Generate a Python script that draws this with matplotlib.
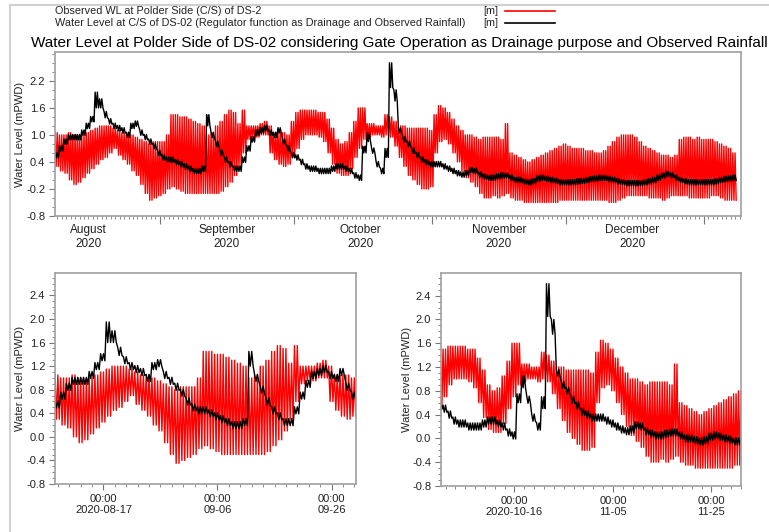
import matplotlib
matplotlib.use('Agg')
import numpy as np
import pandas as pd
import matplotlib.pyplot as plt
import matplotlib.dates as mdates
from matplotlib.ticker import MultipleLocator
from matplotlib.lines import Line2D

plt.rcParams['font.family'] = ['Liberation Sans', 'DejaVu Sans']

# daily high / low envelope, first day = 2020-08-08 12:00
start = pd.Timestamp('2020-08-08 12:00')

# observed WL (red)
red_hi = [
    1.05, 1.0, 1.0, 1.05, 1.0, 1.0, 1.0, 1.05, 1.1, 1.15, 1.2, 1.2, 1.2, 1.15, 1.1, 1.05,  # Aug 8-23
    1.05, 1.0, 0.95, 0.9, 0.85, 0.8, 0.85, 0.85,                                            # Aug 24-31
    0.85, 1.0, 1.45, 1.45, 1.4, 1.4, 1.35, 1.3, 1.25, 1.2, 1.0, 1.05, 1.2, 1.3, 1.45,       # Sep 1-15
    1.55, 1.5, 1.25, 1.55, 1.2, 1.2, 1.2, 1.25, 1.3, 1.2, 1.05, 1.05, 1.05, 1.0, 1.3,       # Sep 16-30
    1.5, 1.55, 1.55, 1.55, 1.55, 1.5, 1.5, 1.35, 1.15, 0.9, 0.8, 0.85, 1.05, 1.3, 1.6, 1.6,  # Oct 1-16
    1.25, 1.25, 1.2, 1.2, 1.45, 1.4, 1.3, 1.2, 1.2, 1.15, 1.15, 1.15, 1.15, 1.15, 1.1,      # Oct 17-31
    1.45, 1.65, 1.6, 1.5, 1.35, 1.2, 1.1, 1.0, 1.0, 0.95, 0.9, 0.95, 0.95, 0.95, 0.95,      # Nov 1-15
    0.9, 1.25, 0.6, 0.55, 0.5, 0.45, 0.4, 0.45, 0.5, 0.55, 0.6, 0.65, 0.7, 0.75, 0.8,       # Nov 16-30
    0.75, 0.7, 0.7, 0.7, 0.65, 0.65, 0.6, 0.6, 0.65, 0.75, 0.85, 0.95, 1.0, 1.0, 1.0, 0.95,  # Dec 1-16
    0.85, 0.75, 0.7, 0.65, 0.6, 0.55, 0.55, 0.5, 0.55, 0.9, 0.95, 0.95, 0.9, 0.95, 0.9,     # Dec 17-31
    0.9, 0.9, 0.85, 0.8, 0.75, 0.7, 0.6,                                                    # Jan 1-7
]
red_lo = [
    0.3, 0.2, 0.15, 0.0, -0.1, -0.05, 0.05, 0.15, 0.25, 0.35, 0.45, 0.5, 0.6, 0.7, 0.55, 0.45,
    0.35, 0.2, 0.1, -0.1, -0.3, -0.45, -0.4, -0.35,
    -0.3, -0.2, -0.15, -0.2, -0.25, -0.3, -0.3, -0.3, -0.3, -0.3, -0.3, -0.3, -0.3, -0.25, -0.15,
    -0.05, 0.1, 0.3, 0.6, 0.9, 0.95, 0.95, 1.0, 1.0, 0.6, 0.45, 0.35, 0.3, 0.35, 0.5,
    0.7, 0.9, 1.0, 1.0, 1.0, 0.95, 0.85, 0.6, 0.35, 0.15, 0.1, 0.1, 0.25, 0.5, 0.7, 0.9,
    0.95, 1.0, 1.0, 0.95, 1.0, 0.95, 0.75, 0.5, 0.3, 0.1, 0.0, -0.1, -0.2, -0.2, -0.15,
    0.6, 0.85, 0.9, 0.8, 0.6, 0.4, 0.2, 0.05, -0.05, -0.15, -0.3, -0.4, -0.4, -0.35, -0.4,
    -0.35, -0.3, -0.4, -0.45, -0.45, -0.5, -0.5, -0.5, -0.5, -0.5, -0.5, -0.5, -0.5, -0.45, -0.45,
    -0.45, -0.45, -0.45, -0.45, -0.45, -0.45, -0.45, -0.45, -0.45, -0.5, -0.5, -0.45, -0.4, -0.35, -0.35, -0.35,
    -0.35, -0.35, -0.4, -0.4, -0.4, -0.45, -0.4, -0.35, -0.35, -0.35, -0.35, -0.4, -0.4, -0.4, -0.4,
    -0.4, -0.35, -0.35, -0.4, -0.45, -0.45, -0.45,
]

# simulated WL at C/S (black)
black_hi = [
    0.61, 0.76, 0.91, 1.01, 1.01, 1.01, 1.11, 1.26, 1.41, 1.95, 1.8, 1.52, 1.36, 1.26, 1.21, 1.16,
    1.06, 1.26, 1.31, 1.11, 1.01, 0.91, 0.81, 0.66,
    0.56, 0.51, 0.51, 0.46, 0.41, 0.36, 0.31, 0.26, 0.26, 0.31, 1.45, 1.06, 0.86, 0.66, 0.51,
    0.41, 0.31, 0.31, 0.51, 0.76, 0.96, 1.11, 1.16, 1.21, 1.11, 1.06, 1.16, 0.91, 0.76, 0.61,
    0.56, 0.46, 0.36, 0.31, 0.31, 0.26, 0.26, 0.26, 0.31, 0.36, 0.36, 0.31, 0.26, 0.16, 0.11, 0.75,
    1.05, 0.71, 0.41, 0.26, 0.7, 2.6, 2.0, 1.16, 0.96, 0.86, 0.71, 0.61, 0.51, 0.46, 0.41,
    0.41, 0.41, 0.36, 0.31, 0.26, 0.21, 0.18, 0.21, 0.28, 0.26, 0.18, 0.14, 0.11, 0.11, 0.14,
    0.16, 0.16, 0.11, 0.06, 0.06, 0.03, 0.01, 0.03, 0.09, 0.11, 0.09, 0.06, 0.04, 0.01, 0.01,
    0.01, 0.01, 0.03, 0.04, 0.06, 0.08, 0.09, 0.11, 0.11, 0.08, 0.06, 0.03, 0.01, -0.01, -0.01, -0.01,
    -0.01, 0.01, 0.03, 0.06, 0.11, 0.16, 0.19, 0.16, 0.11, 0.06, 0.03, 0.01, 0.01, 0.01, 0.01,
    0.01, 0.01, 0.03, 0.06, 0.08, 0.09, 0.11,
]
black_lo = [
    0.49, 0.64, 0.79, 0.89, 0.89, 0.89, 0.99, 1.14, 1.29, 1.6, 1.6, 1.38, 1.24, 1.14, 1.09, 1.04,
    0.94, 1.14, 1.19, 0.99, 0.89, 0.79, 0.69, 0.54,
    0.44, 0.39, 0.39, 0.34, 0.29, 0.24, 0.19, 0.14, 0.14, 0.19, 1.2, 0.94, 0.74, 0.54, 0.39,
    0.29, 0.19, 0.19, 0.39, 0.64, 0.84, 0.99, 1.04, 1.09, 0.99, 0.94, 1.04, 0.79, 0.64, 0.49,
    0.44, 0.34, 0.24, 0.19, 0.19, 0.14, 0.14, 0.14, 0.19, 0.24, 0.24, 0.19, 0.14, 0.04, -0.01, 0.6,
    0.85, 0.59, 0.29, 0.14, 0.5, 2.05, 1.75, 1.04, 0.84, 0.74, 0.59, 0.49, 0.39, 0.34, 0.29,
    0.29, 0.29, 0.24, 0.19, 0.14, 0.09, 0.06, 0.09, 0.16, 0.14, 0.06, 0.02, -0.01, -0.01, 0.02,
    0.04, 0.04, -0.01, -0.06, -0.06, -0.09, -0.11, -0.09, -0.03, -0.01, -0.03, -0.06, -0.08, -0.11, -0.11,
    -0.11, -0.11, -0.09, -0.08, -0.06, -0.04, -0.03, -0.01, -0.01, -0.04, -0.06, -0.09, -0.11, -0.13, -0.13, -0.13,
    -0.13, -0.11, -0.09, -0.06, -0.01, 0.04, 0.07, 0.04, -0.01, -0.06, -0.09, -0.11, -0.11, -0.11, -0.11,
    -0.11, -0.11, -0.09, -0.06, -0.04, -0.03, -0.01,
]

legend_red = 'Observed WL at Polder Side (C/S) of DS-2'
legend_black = 'Water Level at C/S of DS-02 (Regulator function as Drainage and Observed Rainfall)'
title = 'Water Level at Polder Side of DS-02 considering Gate Operation as Drainage purpose and Observed Rainfall'
month_names = ['August', 'September', 'October', 'November', 'December']
bl_ticks = ['2020-08-17', '2020-09-06', '2020-09-26']
bl_labels = ['00:00\n2020-08-17', '00:00\n09-06', '00:00\n09-26']
br_ticks = ['2020-10-16', '2020-11-05', '2020-11-25']
br_labels = ['00:00\n2020-10-16', '00:00\n11-05', '00:00\n11-25']


def semidiurnal(hi, lo):
    # two tides a day: high, low, high, low every 6 hours using that day's envelope
    t = pd.date_range(start, periods=4 * len(hi), freq='6h')
    v = np.column_stack([hi, lo, hi, lo]).ravel()
    return t, v


t_red, v_red = semidiurnal(red_hi, red_lo)
t_blk, v_blk = semidiurnal(black_hi, black_lo)

W, H = 769, 532
fig = plt.figure(figsize=(W / 100, H / 100), dpi=100)
spine_col = '#a0a0a0'


def style(ax, ymin, ymax, major, minor, label_x):
    ax.plot(t_red, v_red, color='#ff0000', lw=1.0)
    ax.plot(t_blk, v_blk, color='black', lw=1.0)
    ax.set_ylim(ymin, ymax)
    ax.yaxis.set_major_locator(MultipleLocator(major))
    ax.yaxis.set_minor_locator(MultipleLocator(minor))
    ax.yaxis.set_major_formatter(plt.FormatStrFormatter('%.1f'))
    for s in ax.spines.values():
        s.set_color(spine_col)
        s.set_linewidth(1.2)
    ax.tick_params(which='both', direction='out', color='#777777', labelsize=8, labelcolor='#222222')
    ax.tick_params(which='major', length=4, pad=3)
    ax.tick_params(which='minor', length=2.5)
    ax.set_ylabel('Water Level (mPWD)', fontsize=8, color='#222222')
    ax.yaxis.set_label_coords(label_x, 0.5)


# top panel
ax1 = fig.add_axes([55 / W, 1 - 216 / H, 686 / W, 164 / H])
style(ax1, -0.8, 2.84, 0.6, 0.2, (25 - 55) / 686)
ax1.set_yticks([-0.8, -0.2, 0.4, 1.0, 1.6, 2.2])
ax1.set_xlim(pd.Timestamp('2020-08-08 12:00'), pd.Timestamp('2021-01-09 08:00'))
ax1.xaxis.set_major_locator(mdates.MonthLocator())
ax1.xaxis.set_major_formatter(plt.NullFormatter())
ax1.xaxis.set_minor_locator(mdates.DayLocator())
ax1.tick_params(axis='x', which='major', length=6)
for i, m in enumerate(month_names):
    ax1.annotate(m + '\n2020', xy=(pd.Timestamp(2020, 8 + i, 16), 0), xycoords=('data', 'axes fraction'),
                 xytext=(0, -6), textcoords='offset points', ha='center', va='top',
                 fontsize=8.5, color='#222222', linespacing=1.2)

# bottom left panel
ax2 = fig.add_axes([55 / W, 1 - 484 / H, 301 / W, 211 / H])
style(ax2, -0.8, 2.78, 0.4, 0.1, (25 - 55) / 301)
ax2.set_xlim(pd.Timestamp('2020-08-08 12:00'), pd.Timestamp('2020-09-30 07:00'))
ax2.set_xticks(pd.to_datetime(bl_ticks))
ax2.set_xticklabels(bl_labels)
ax2.set_xticks(pd.date_range('2020-08-09', '2020-10-01', freq='2D'), minor=True)

# bottom right panel
ax3 = fig.add_axes([441 / W, 1 - 486 / H, 300 / W, 213 / H])
style(ax3, -0.8, 2.78, 0.4, 0.1, (412 - 441) / 300)
ax3.set_xlim(pd.Timestamp('2020-10-01 02:00'), pd.Timestamp('2020-11-30 04:00'))
ax3.set_xticks(pd.to_datetime(br_ticks))
ax3.set_xticklabels(br_labels)
ax3.set_xticks(pd.date_range('2020-10-02', '2020-12-01', freq='2D'), minor=True)

for ax in (ax2, ax3):
    for lab in ax.get_xticklabels():
        lab.set_linespacing(1.2)

# legend block and title
fig.text(55 / W, 1 - 11 / H, legend_red, fontsize=7.8, va='center', color='#222222')
fig.text(55 / W, 1 - 23 / H, legend_black, fontsize=7.8, va='center', color='#222222')
fig.text(498 / W, 1 - 11 / H, '[m]', fontsize=7.8, va='center', ha='right', color='#222222')
fig.text(498 / W, 1 - 23 / H, '[m]', fontsize=7.8, va='center', ha='right', color='#222222')
fig.add_artist(Line2D([505 / W, 555 / W], [1 - 11 / H] * 2, color='#ff0000', lw=1.2))
fig.add_artist(Line2D([505 / W, 555 / W], [1 - 23 / H] * 2, color='black', lw=1.2))
fig.text(399 / W, 1 - 43 / H, title, fontsize=11, ha='center', va='center', color='black')

# panel border
fig.add_artist(Line2D([10 / W, 10 / W], [0, 1 - 5 / H], color='#d0d0d0', lw=1.5))
fig.add_artist(Line2D([10 / W, 1], [1 - 5 / H] * 2, color='#d0d0d0', lw=1.5))

fig.savefig('out.png', dpi=100)
